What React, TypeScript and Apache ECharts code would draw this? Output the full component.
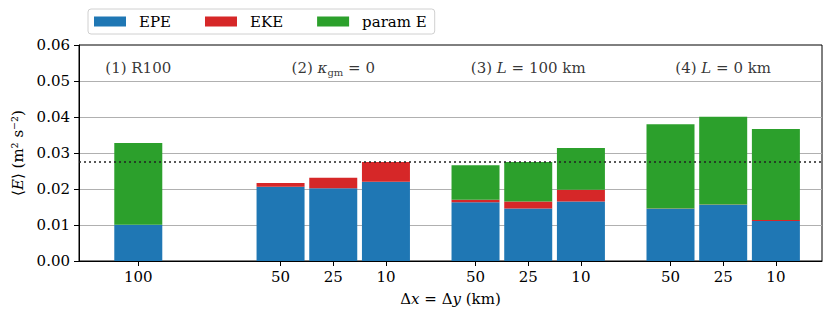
import React, { useEffect, useRef } from 'react';
import * as echarts from 'echarts';

// Tick labels (grid spacing in km) and their positions along the x axis (groups separated by gaps)
const xLabels = ['100', '50', '25', '10', '50', '25', '10', '50', '25', '10'];
const xPositions = [0, 2.7, 3.7, 4.7, 6.4, 7.4, 8.4, 10.1, 11.1, 12.1];

// Series values (m^2 s^-2)
const epe = [0.0101, 0.0206, 0.0202, 0.022, 0.0163, 0.0146, 0.0165, 0.0145, 0.0156, 0.0111];
const eke = [0, 0.0011, 0.0029, 0.0055, 0.0007, 0.0019, 0.0033, 0.0001, 0.0001, 0.0003];
const paramE = [0.0227, 0, 0, 0, 0.0096, 0.011, 0.0116, 0.0234, 0.0244, 0.0253];

const referenceLevel = 0.0275;

// Panel titles
const panelTitles = [
  '(1) R100',
  '(2) {i|κ}{s|gm}{m| = }0',
  '(3) {i|L}{m| = }100 km',
  '(4) {i|L}{m| = }0 km',
];
const panelCenters = [0, 3.7, 7.4, 11.1];
const panelLevel = 0.0536;

// fine slot grid for the category axis
const slotStart = -1.1;
const slotEnd = 12.95;
const slotStep = 0.05;

const FONT = 'DejaVu Serif';

export default function App() {
  const ref = useRef<HTMLDivElement>(null);
  useEffect(() => {
    if (!ref.current) return;
    const chart = echarts.init(ref.current, undefined, { renderer: 'svg' });
    const nSlots = Math.round((slotEnd - slotStart) / slotStep) + 1;
    const slots = Array.from({ length: nSlots }, (_, i) => 's' + i);
    const slotOf = (p: number) => Math.round((p - slotStart) / slotStep);
    const barSlots = xPositions.map(slotOf);
    const spread = (vals: number[]) => {
      const arr: (number | string)[] = slots.map(() => '-');
      vals.forEach((v, i) => (arr[barSlots[i]] = v));
      return arr;
    };
    const isBarSlot = (idx: number) => barSlots.indexOf(idx) >= 0;
    const rich = {
      i: { fontFamily: FONT, fontStyle: 'italic', fontSize: 15, color: '#000' },
      s: { fontFamily: FONT, fontSize: 10, color: '#000', padding: [9, 0, 0, 0] },
      m: { fontFamily: FONT, fontSize: 15, color: '#000' },
    };
    chart.setOption({
      animation: false,
      textStyle: { fontFamily: FONT },
      grid: {
        left: 79,
        right: 9,
        top: 45,
        bottom: 56,
        show: true,
        borderColor: '#000',
        borderWidth: 1,
        backgroundColor: 'transparent',
      },
      legend: {
        left: 88,
        top: 9,
        itemWidth: 32,
        itemHeight: 10,
        itemGap: 34,
        padding: [5, 8, 5, 6],
        borderColor: '#d0d0d0',
        borderWidth: 1,
        borderRadius: 3,
        icon: 'rect',
        textStyle: { fontFamily: FONT, fontSize: 15, color: '#000', padding: [0, 0, 0, 8] },
        data: ['EPE', 'EKE', 'param E'],
      },
      xAxis: {
        type: 'category',
        data: slots,
        boundaryGap: true,
        name: '{a|Δ}{i|x}{a| = Δ}{i|y}{a| (km)}',
        nameLocation: 'middle',
        nameGap: 30,
        nameTextStyle: {
          rich: {
            a: { fontFamily: FONT, fontSize: 15, color: '#000' },
            i: { fontFamily: FONT, fontStyle: 'italic', fontSize: 15, color: '#000' },
          },
        },
        axisLine: { show: true, onZero: false, lineStyle: { color: '#000', width: 1 } },
        axisTick: {
          show: true,
          length: 5,
          alignWithLabel: true,
          interval: (idx: number) => isBarSlot(idx),
          lineStyle: { color: '#000' },
        },
        axisLabel: {
          interval: (idx: number) => isBarSlot(idx),
          formatter: (_v: string, idx: number) => {
            const k = barSlots.indexOf(idx);
            return k >= 0 ? xLabels[k] : '';
          },
          fontFamily: FONT,
          fontSize: 15,
          color: '#000',
          margin: 8,
        },
        splitLine: { show: false },
      },
      yAxis: {
        type: 'value',
        min: 0,
        max: 0.06,
        interval: 0.01,
        name: '⟨{i|E}⟩ (m² s⁻²)',
        nameLocation: 'middle',
        nameGap: 52,
        nameRotate: 90,
        nameTextStyle: {
          fontFamily: FONT,
          fontSize: 15,
          color: '#000',
          rich: { i: { fontFamily: FONT, fontStyle: 'italic', fontSize: 15, color: '#000' } },
        },
        axisLine: { show: true, onZero: false, lineStyle: { color: '#000', width: 1 } },
        axisTick: { show: true, length: 5, lineStyle: { color: '#000' } },
        axisLabel: {
          formatter: (v: number) => v.toFixed(2),
          fontFamily: FONT,
          fontSize: 15,
          color: '#000',
          margin: 9,
        },
        splitLine: {
          show: true,
          showMinLine: false,
          showMaxLine: false,
          lineStyle: { color: '#b0b0b0', width: 1 },
        },
      },
      series: [
        {
          name: 'EPE',
          type: 'bar',
          stack: 'E',
          barWidth: 48,
          itemStyle: { color: '#1f77b4' },
          data: spread(epe),
          markLine: {
            silent: true,
            symbol: 'none',
            precision: 5,
            label: { show: false },
            lineStyle: { color: '#222', type: [2, 3], width: 1.5 },
            data: [{ yAxis: referenceLevel }],
          },
        },
        {
          name: 'EKE',
          type: 'bar',
          stack: 'E',
          barWidth: 48,
          itemStyle: { color: '#d62728' },
          data: spread(eke),
        },
        {
          name: 'param E',
          type: 'bar',
          stack: 'E',
          barWidth: 48,
          itemStyle: { color: '#2ca02c' },
          data: spread(paramE),
        },
        {
          name: 'titles',
          type: 'scatter',
          symbolSize: 1,
          itemStyle: { color: 'rgba(0,0,0,0)' },
          silent: true,
          data: panelCenters.map((x) => [slotOf(x), panelLevel]),
          label: {
            show: true,
            position: 'inside',
            formatter: (p: any) => panelTitles[p.dataIndex],
            fontFamily: FONT,
            fontSize: 15,
            color: '#000',
            rich,
          },
        },
      ],
    });
    return () => chart.dispose();
  }, []);
  return <div ref={ref} style={{ width: 831, height: 317, margin: -8 }} />;
}
